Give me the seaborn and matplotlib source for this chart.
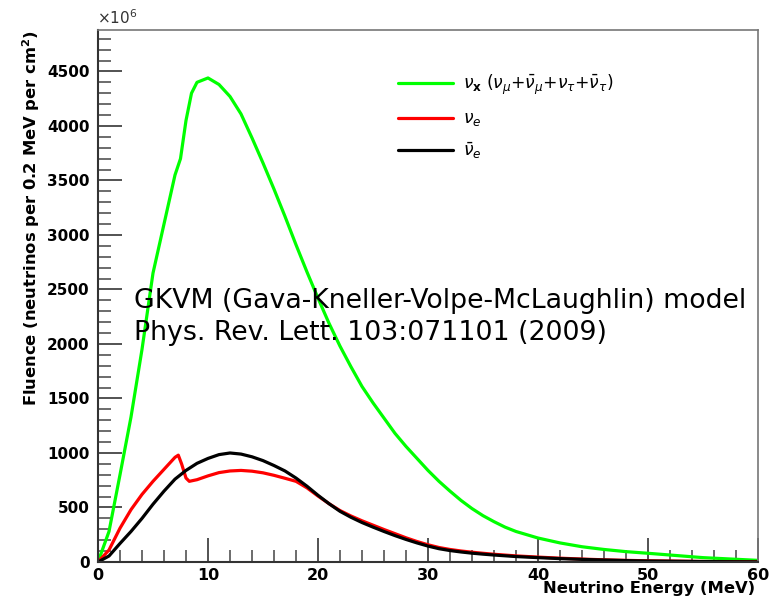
import numpy as np
import pandas as pd
import matplotlib
matplotlib.use('Agg')
import matplotlib.pyplot as plt
from matplotlib.ticker import MultipleLocator
import seaborn as sns

# values (units of 1e6 neutrinos per 0.2 MeV per cm^2)
e_nux = [0, 1, 2, 3, 4, 5, 6, 7, 7.5, 8, 8.5, 9, 10, 11, 12, 13, 14, 15, 16, 17, 18, 19, 20,
         21, 22, 23, 24, 25, 26, 27, 28, 29, 30, 31, 32, 33, 34, 35, 36, 37, 38, 39, 40,
         42, 44, 46, 48, 50, 55, 60]
f_nux = [0, 280, 800, 1330, 1950, 2650, 3100, 3550, 3700, 4050, 4300, 4400, 4440, 4380, 4270,
         4110, 3890, 3660, 3420, 3170, 2910, 2660, 2420, 2190, 1980, 1790, 1610, 1460, 1320,
         1180, 1060, 950, 840, 740, 650, 565, 490, 425, 370, 320, 280, 250, 220,
         175, 140, 115, 95, 80, 40, 15]

e_nue = [0, 1, 2, 3, 4, 5, 6, 7, 7.3, 7.6, 8, 8.3, 9, 10, 11, 12, 13, 14, 15, 16, 17, 18, 19,
         20, 21, 22, 23, 24, 25, 26, 27, 28, 29, 30, 31, 32, 33, 34, 35, 36, 38, 40, 42, 44,
         46, 48, 50, 55, 60]
f_nue = [0, 110, 310, 480, 620, 740, 850, 960, 980, 900, 770, 740, 755, 790, 820, 835, 840,
         833, 818, 795, 768, 740, 680, 605, 535, 472, 422, 378, 338, 298, 260, 222, 188, 158,
         133, 115, 101, 90, 80, 71, 56, 45, 35, 27, 20, 15, 11, 5, 2]

e_nuebar = [0, 1, 2, 3, 4, 5, 6, 7, 8, 9, 10, 11, 12, 13, 14, 15, 16, 17, 18, 19, 20, 21, 22,
            23, 24, 25, 26, 27, 28, 29, 30, 31, 32, 33, 34, 35, 36, 38, 40, 42, 44, 46, 48,
            50, 55, 60]
f_nuebar = [0, 55, 170, 280, 400, 530, 650, 760, 840, 905, 950, 985, 1000, 990, 965, 930, 885,
            835, 770, 695, 612, 535, 465, 410, 362, 320, 280, 242, 207, 175, 146, 122, 105,
            92, 81, 72, 64, 50, 40, 31, 24, 18, 13, 9, 4, 1]

labels = [r'$\nu_{\mathbf{x}}$ ($\nu_{\mu}$+$\bar{\nu}_{\mu}$+$\nu_{\tau}$+$\bar{\nu}_{\tau}$)',
          r'$\nu_{e}$', r'$\bar{\nu}_{e}$']
colors = ['#00ff00', '#ff0000', '#000000']

sns.set_style('ticks')
plt.rcParams['font.family'] = ['DejaVu Sans']
plt.rcParams['text.color'] = 'black'
plt.rcParams['xtick.labelcolor'] = 'black'
plt.rcParams['ytick.labelcolor'] = 'black'

fig = plt.figure(figsize=(7.75, 5.99), dpi=100)
ax = fig.add_axes([98 / 775, 37 / 599, 660 / 775, 532 / 599])

series = [(e_nux, f_nux), (e_nue, f_nue), (e_nuebar, f_nuebar)]
for (e, f), lab, col in zip(series, labels, colors):
    df = pd.DataFrame({'E': e, 'F': f})
    sns.lineplot(data=df, x='E', y='F', ax=ax, color=col, lw=2.3, label=lab,
                 estimator=None, sort=False)

ax.set_xlim(0, 60)
ax.set_ylim(0, 4880)
ax.set_xlabel('')
ax.set_ylabel('')
ax.xaxis.set_major_locator(MultipleLocator(10))
ax.xaxis.set_minor_locator(MultipleLocator(2))
ax.yaxis.set_major_locator(MultipleLocator(500))
ax.yaxis.set_minor_locator(MultipleLocator(100))
ax.tick_params(which='major', direction='in', length=17, width=1.3, color='#444',
               top=False, right=False)
ax.tick_params(which='minor', direction='in', length=9, width=1.1, color='#444',
               top=False, right=False)
ax.tick_params(axis='y', labelsize=11, pad=6)
ax.tick_params(axis='x', labelsize=11.5, pad=4)
for t in ax.get_xticklabels() + ax.get_yticklabels():
    t.set_fontweight('bold')
for s in ['left', 'bottom']:
    ax.spines[s].set_color('#333')
    ax.spines[s].set_linewidth(1.5)
for s in ['top', 'right']:
    ax.spines[s].set_color('#777')
    ax.spines[s].set_linewidth(1.2)

leg = ax.legend(loc='upper left', bbox_to_anchor=(398 / 775, 1 - 73 / 599),
                bbox_transform=fig.transFigure, frameon=False, fontsize=12.3,
                handlelength=3.2, labelspacing=0.72, handletextpad=0.6, borderpad=0,
                borderaxespad=0)

fig.text(97 / 775, 1 - 18 / 599, r'$\times10^{6}$', fontsize=11, color='#333',
         ha='left', va='center')
fig.text(31 / 775, 1 - 30 / 599, r'Fluence (neutrinos per 0.2 MeV per cm$^{\mathbf{2}}$)',
         rotation=90, ha='center', va='top', fontsize=11.8, fontweight='bold')
fig.text(755 / 775, 1 - 589 / 599, 'Neutrino Energy (MeV)', ha='right', va='center',
         fontsize=11.8, fontweight='bold')
fig.text(134 / 775, 1 - 308 / 599, 'GKVM (Gava-Kneller-Volpe-McLaughlin) model',
         ha='left', va='baseline', fontsize=19.3)
fig.text(134 / 775, 1 - 340 / 599, 'Phys. Rev. Lett. 103:071101 (2009)',
         ha='left', va='baseline', fontsize=19.3)

fig.savefig('out.png', dpi=100)
